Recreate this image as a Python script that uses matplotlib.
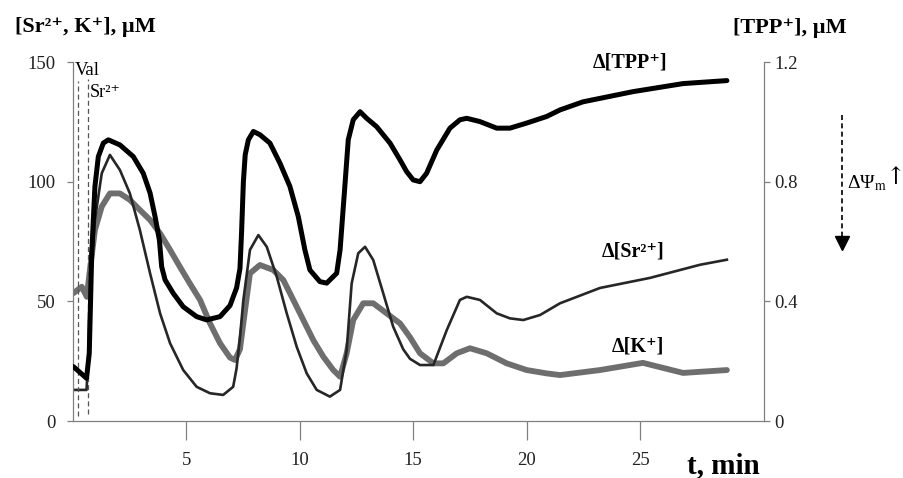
import matplotlib
matplotlib.use('Agg')
import matplotlib.pyplot as plt
from matplotlib.lines import Line2D

plt.rcParams['font.family'] = ['Liberation Serif', 'DejaVu Serif']
plt.rcParams['mathtext.fontset'] = 'stix'
plt.rcParams['font.size'] = 13.5

# delta[TPP+], uM (right axis)
t_tpp = [0.03, 0.61, 0.73, 0.84, 0.98, 1.13, 1.35, 1.57, 2.08, 2.67, 3.11, 3.41, 3.63, 3.82,
         3.92, 4.07, 4.43, 4.87, 5.46, 5.90, 6.49, 6.93, 7.22, 7.37, 7.44, 7.52, 7.60, 7.74,
         7.96, 8.25, 8.69, 9.13, 9.57, 9.94, 10.23, 10.45, 10.89, 11.19, 11.63, 11.78, 12.00,
         12.14, 12.36, 12.66, 12.95, 13.39, 13.98, 14.42, 14.71, 15.00, 15.30, 15.59, 16.04,
         16.62, 17.06, 17.36, 17.94, 18.68, 19.26, 20.00, 20.88, 21.47, 22.48, 24.68, 26.89,
         28.82]
tpp = [0.182, 0.143, 0.226, 0.561, 0.784, 0.884, 0.929, 0.940, 0.923, 0.884, 0.828, 0.762,
       0.683, 0.605, 0.516, 0.472, 0.427, 0.382, 0.349, 0.338, 0.349, 0.386, 0.445, 0.510,
       0.630, 0.800, 0.890, 0.940, 0.968, 0.957, 0.929, 0.862, 0.784, 0.683, 0.572, 0.505,
       0.466, 0.461, 0.494, 0.572, 0.795, 0.940, 1.007, 1.034, 1.012, 0.984, 0.929, 0.873,
       0.834, 0.806, 0.800, 0.828, 0.906, 0.979, 1.007, 1.012, 1.001, 0.979, 0.979, 0.996,
       1.018, 1.040, 1.067, 1.101, 1.128, 1.138]

# delta[Sr2+], uM (left axis)
t_sr = [0.03, 0.61, 0.68, 0.76, 0.98, 1.28, 1.64, 2.08, 2.52, 2.96, 3.41, 3.85, 4.29, 4.87,
        5.46, 6.05, 6.63, 7.07, 7.22, 7.37, 7.52, 7.81, 8.18, 8.55, 8.99, 9.43, 9.87, 10.31,
        10.75, 11.33, 11.78, 12.07, 12.29, 12.58, 12.88, 13.24, 13.68, 14.12, 14.56, 14.86,
        15.30, 15.89, 16.48, 17.06, 17.36, 17.94, 18.68, 19.26, 19.85, 20.59, 21.47, 23.23,
        25.43, 27.64, 28.82]
sr = [13.0, 13.0, 25.0, 56.1, 84.0, 103.5, 111.2, 104.9, 95.1, 79.8, 61.7, 45.0, 32.5, 21.3,
      14.3, 11.6, 10.9, 14.3, 22.0, 35.0, 50.6, 71.5, 77.7, 72.8, 60.3, 45.0, 31.0, 19.9,
      13.0, 10.2, 13.0, 29.7, 57.5, 70.1, 72.8, 67.3, 53.4, 39.4, 30.0, 26.0, 23.4, 23.4,
      38.0, 50.6, 51.9, 50.6, 45.0, 42.9, 42.2, 44.3, 49.2, 55.6, 59.8, 65.3, 67.4]

# delta[K+], uM (left axis)
t_k = [0.03, 0.40, 0.62, 0.76, 0.98, 1.28, 1.64, 2.08, 2.52, 2.96, 3.41, 3.85, 4.29, 4.72,
       5.16, 5.61, 6.05, 6.49, 6.93, 7.15, 7.37, 7.52, 7.81, 8.25, 8.84, 9.28, 9.72, 10.16,
       10.60, 11.04, 11.48, 11.78, 12.07, 12.36, 12.80, 13.24, 13.83, 14.42, 14.86, 15.30,
       15.89, 16.33, 16.92, 17.50, 18.24, 19.12, 20.00, 20.88, 21.47, 23.23, 25.12, 26.89,
       28.82]
k = [53.4, 56.1, 51.9, 63.1, 79.8, 89.6, 95.1, 95.1, 92.4, 88.2, 84.0, 78.4, 71.5, 64.5,
     57.5, 50.6, 40.8, 32.5, 26.5, 25.5, 30.0, 41.0, 61.7, 65.2, 63.1, 58.9, 50.6, 42.2,
     33.8, 26.9, 21.3, 18.5, 28.3, 42.2, 49.2, 49.2, 45.0, 40.8, 35.0, 28.3, 24.1, 24.1,
     28.3, 30.4, 28.3, 24.1, 21.3, 19.9, 19.2, 21.3, 24.3, 20.1, 21.3]

# additions: valinomycin and Sr2+
t_val = 0.23
t_sradd = 0.67

fig = plt.figure(figsize=(9.04, 4.78), dpi=100)
ax = fig.add_axes([0.0804, 0.1192, 0.7646, 0.7510])
ax2 = ax.twinx()

ax.plot(t_k, k, color='#6e6e6e', linewidth=4.2, solid_joinstyle='round', solid_capstyle='round')
ax.plot(t_sr, sr, color='#262626', linewidth=1.9, solid_joinstyle='round')
ax2.plot(t_tpp, tpp, color='black', linewidth=3.6, solid_joinstyle='round', solid_capstyle='round')

ax.plot([t_val, t_val], [2, 142], color='#555555', linewidth=0.9, linestyle=(0, (4, 2.5)))
ax.plot([t_sradd, t_sradd], [3, 143], color='#555555', linewidth=0.9, linestyle=(0, (4, 2.5)))
ax.text(0.10, 144.6, 'Val', fontsize=13.5, va='baseline', ha='left')
ax.text(0.76, 135.4, 'Sr²⁺', fontsize=13, va='baseline', ha='left')

ax.set_xlim(0, 30.45)
ax.set_ylim(0, 150)
ax2.set_ylim(0, 1.2)
ax.set_xticks([5, 10, 15, 20, 25])
ax.set_yticks([0, 50, 100, 150])
ax2.set_yticks([0, 0.4, 0.8, 1.2])
ax2.set_yticklabels(['0', '0.4', '0.8', '1.2'])

for a in (ax, ax2):
    a.spines['top'].set_visible(False)
    for s in a.spines.values():
        s.set_color('#808080')
        s.set_linewidth(0.9)
ax.spines['right'].set_visible(False)
ax2.spines['left'].set_visible(False)
ax2.spines['bottom'].set_visible(False)

ax.tick_params(axis='x', direction='out', length=14, width=0.9, color='#808080', pad=8, labelcolor='#222222')
ax.tick_params(axis='y', direction='out', length=4.3, width=0.9, color='#808080', pad=8, labelcolor='#222222')
ax2.tick_params(axis='y', direction='out', length=4.3, width=0.9, color='#808080', pad=3, labelcolor='#222222')

# axis titles
fig.text(0.0166, 0.9435, '[Sr²⁺, K⁺], µM', fontsize=16, fontweight='bold', va='center', ha='left')
fig.text(0.811, 0.941, '[TPP⁺], µM', fontsize=16, fontweight='bold', va='center', ha='left')
fig.text(0.760, 0.0105, 't, min', fontsize=21, fontweight='bold', va='baseline', ha='left')

# curve labels
fig.text(0.697, 0.870, 'Δ[TPP⁺]', fontsize=14.5, fontweight='bold', va='center', ha='center')
fig.text(0.700, 0.474, 'Δ[Sr²⁺]', fontsize=14.5, fontweight='bold', va='center', ha='center')
fig.text(0.706, 0.276, 'Δ[K⁺]', fontsize=14.5, fontweight='bold', va='center', ha='center')

# membrane potential arrow
fig.add_artist(Line2D([0.931, 0.931], [0.759, 0.505], transform=fig.transFigure,
                      color='black', linewidth=1.2, linestyle=(0, (3, 2))))
fig.add_artist(Line2D([0.931], [0.492], transform=fig.transFigure, marker='v',
                      markersize=10, color='black', linestyle='none'))
fig.text(0.937, 0.617, r'ΔΨ$_{\mathrm{m}}$', fontsize=14, va='center', ha='left')
fig.text(0.980, 0.628, '↑', fontsize=17, va='center', ha='left', family=['DejaVu Serif'])

fig.savefig('out.png', dpi=100)
